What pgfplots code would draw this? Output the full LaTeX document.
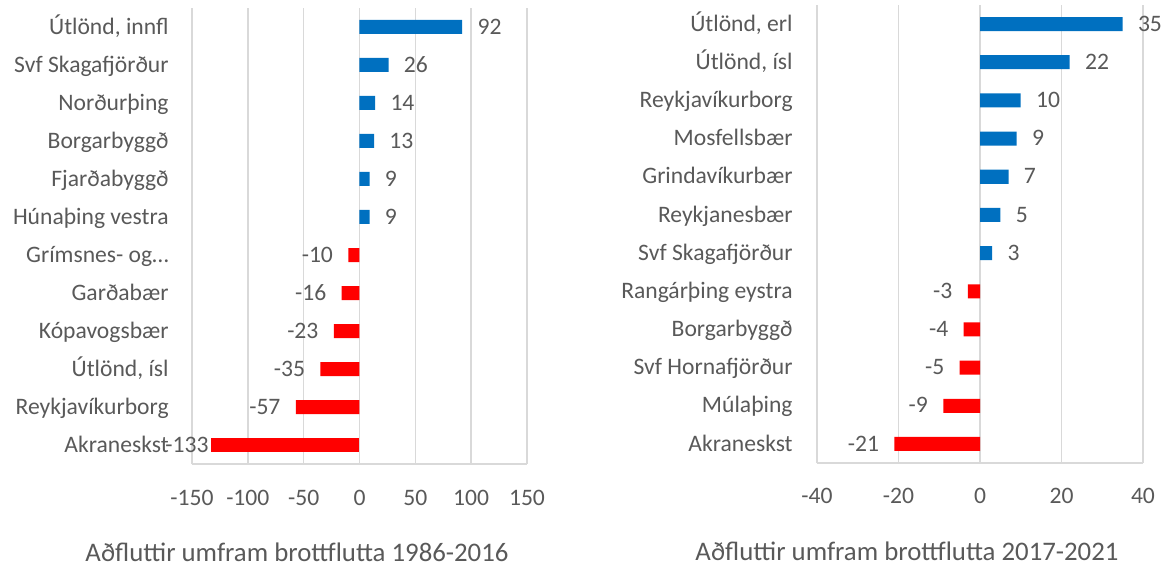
\documentclass[border=0pt]{standalone}
\usepackage{pgfplots}
\pgfplotsset{compat=1.18}
\usepackage{fontspec}
\setmainfont{Carlito}
\definecolor{txt}{HTML}{595959}
\definecolor{grd}{HTML}{D9D9D9}
\definecolor{bblue}{HTML}{0070C0}
\definecolor{bred}{HTML}{FF0000}
\newcommand{\lbl}{\fontsize{11.8}{14}\selectfont}
\begin{document}
\begin{tikzpicture}
\useasboundingbox (0pt,0pt) rectangle (583pt,284pt);
\pgfplotsset{
  mystyle/.style={
    scale only axis, anchor=south west,
    xbar, bar width=7pt, bar shift=0pt,
    ymin=-0.5, ymax=11.5, ytick={0,...,11},
    axis x line*=bottom, axis y line*=left,
    y axis line style={draw=none},
    x axis line style={draw=grd, line width=0.75pt, -},
    xmajorgrids, grid style={draw=grd, line width=0.75pt},
    major tick length=0pt,
    tick label style={font=\lbl, text=txt},
    point meta=x,
    nodes near coords,
    clip=false,
    /pgf/number format/assume math mode=true,
  },
  pos/.style={draw=none, fill=bblue,
    every node near coord/.append style={font=\lbl, text=txt, inner sep=0pt, anchor=base west, xshift=7.5pt, yshift=-3.6pt}},
  neg/.style={draw=none, fill=bred,
    every node near coord/.append style={font=\lbl, text=txt, inner sep=0pt, anchor=base east, xshift=-7.5pt, yshift=-3.6pt}},
}
% Left chart
\begin{axis}[mystyle, at={(96pt,52pt)}, width=167.5pt, height=228pt,
  xmin=-150, xmax=150, xtick={-150,-100,...,150},
  xticklabel style={anchor=base, yshift=-20.5pt},
  yticklabel style={anchor=base east, inner sep=0pt, xshift=-11.5pt, yshift=-3.6pt},
  yticklabels={Akraneskst, Reykjavíkurborg, {Útlönd, ísl}, Kópavogsbær, Garðabær, Grímsnes- og…, Húnaþing vestra, Fjarðabyggð, Borgarbyggð, Norðurþing, Svf Skagafjörður, {Útlönd, innfl}},
]
\addplot[pos] coordinates {(92,11) (26,10) (14,9) (13,8) (9,7) (9,6)};
\addplot[neg] coordinates {(-10,5) (-16,4) (-23,3) (-35,2) (-57,1)};
\addplot[draw=none, fill=bred,
  every node near coord/.append style={font=\lbl, text=txt, inner sep=0pt, anchor=base east, xshift=-1pt, yshift=-3.6pt}] coordinates {(-133,0)};
\end{axis}
% Right chart
\begin{axis}[mystyle, at={(408.5pt,52.5pt)}, width=163pt, height=229pt,
  xmin=-40, xmax=40, xtick={-40,-20,...,40},
  xticklabel style={anchor=base, yshift=-20pt},
  yticklabel style={anchor=base east, inner sep=0pt, xshift=-12pt, yshift=-3.6pt},
  yticklabels={Akraneskst, Múlaþing, Svf Hornafjörður, Borgarbyggð, Rangárþing eystra, Svf Skagafjörður, Reykjanesbær, Grindavíkurbær, Mosfellsbær, Reykjavíkurborg, {Útlönd, ísl}, {Útlönd, erl}},
]
\addplot[pos] coordinates {(35,11) (22,10) (10,9) (9,8) (7,7) (5,6) (3,5)};
\addplot[neg] coordinates {(-3,4) (-4,3) (-5,2) (-9,1) (-21,0)};
\end{axis}
\node[anchor=base, font=\fontsize{13.4}{16}\selectfont, text=txt, inner sep=0pt] at (148.5pt,3.3pt) {Aðfluttir umfram brottflutta 1986-2016};
\node[anchor=base, font=\fontsize{13.4}{16}\selectfont, text=txt, inner sep=0pt] at (453.5pt,4pt) {Aðfluttir umfram brottflutta 2017-2021};
\end{tikzpicture}
\end{document}
